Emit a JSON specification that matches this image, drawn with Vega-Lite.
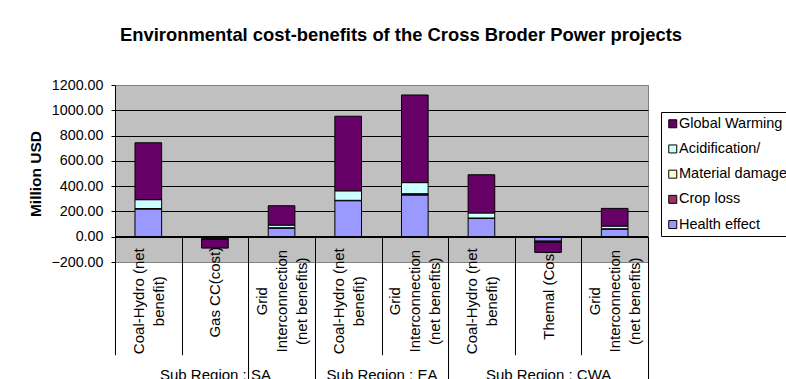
{
  "$schema": "https://vega.github.io/schema/vega-lite/v6.json",
  "width": 533,
  "height": 177,
  "autosize": {"type": "none"},
  "padding": {"left": 115, "top": 85, "right": 138, "bottom": 117},
  "background": "white",
  "config": {
    "font": "Liberation Sans",
    "view": {"fill": "#C0C0C0", "stroke": "#808080", "strokeWidth": 1}
  },
  "title": {
    "text": "Environmental cost-benefits of the Cross Broder Power projects",
    "fontSize": 18.4,
    "fontWeight": "bold",
    "color": "black",
    "anchor": "middle",
    "frame": "group",
    "dx": 19.5,
    "offset": 34
  },
  "data": {
    "values": [
      {"region": "SA", "project": "Coal-Hydro (net benefit)", "component": "Health effect", "value": 220},
      {"region": "SA", "project": "Coal-Hydro (net benefit)", "component": "Crop loss", "value": 2},
      {"region": "SA", "project": "Coal-Hydro (net benefit)", "component": "Material damage", "value": 1},
      {"region": "SA", "project": "Coal-Hydro (net benefit)", "component": "Acidification/", "value": 70},
      {"region": "SA", "project": "Coal-Hydro (net benefit)", "component": "Global Warming", "value": 450},
      {"region": "SA", "project": "Gas CC(cost)", "component": "Health effect", "value": -12},
      {"region": "SA", "project": "Gas CC(cost)", "component": "Crop loss", "value": -8},
      {"region": "SA", "project": "Gas CC(cost)", "component": "Material damage", "value": 0},
      {"region": "SA", "project": "Gas CC(cost)", "component": "Acidification/", "value": 0},
      {"region": "SA", "project": "Gas CC(cost)", "component": "Global Warming", "value": -70},
      {"region": "SA", "project": "Grid Interconnection (net benefits)", "component": "Health effect", "value": 70},
      {"region": "SA", "project": "Grid Interconnection (net benefits)", "component": "Crop loss", "value": 1},
      {"region": "SA", "project": "Grid Interconnection (net benefits)", "component": "Material damage", "value": 0},
      {"region": "SA", "project": "Grid Interconnection (net benefits)", "component": "Acidification/", "value": 21},
      {"region": "SA", "project": "Grid Interconnection (net benefits)", "component": "Global Warming", "value": 153},
      {"region": "EA", "project": "Coal-Hydro (net benefit)", "component": "Health effect", "value": 285},
      {"region": "EA", "project": "Coal-Hydro (net benefit)", "component": "Crop loss", "value": 2},
      {"region": "EA", "project": "Coal-Hydro (net benefit)", "component": "Material damage", "value": 1},
      {"region": "EA", "project": "Coal-Hydro (net benefit)", "component": "Acidification/", "value": 75},
      {"region": "EA", "project": "Coal-Hydro (net benefit)", "component": "Global Warming", "value": 590},
      {"region": "EA", "project": "Grid Interconnection (net benefits)", "component": "Health effect", "value": 330},
      {"region": "EA", "project": "Grid Interconnection (net benefits)", "component": "Crop loss", "value": 8},
      {"region": "EA", "project": "Grid Interconnection (net benefits)", "component": "Material damage", "value": 2},
      {"region": "EA", "project": "Grid Interconnection (net benefits)", "component": "Acidification/", "value": 88},
      {"region": "EA", "project": "Grid Interconnection (net benefits)", "component": "Global Warming", "value": 693},
      {"region": "CWA", "project": "Coal-Hydro (net benefit)", "component": "Health effect", "value": 147},
      {"region": "CWA", "project": "Coal-Hydro (net benefit)", "component": "Crop loss", "value": 1},
      {"region": "CWA", "project": "Coal-Hydro (net benefit)", "component": "Material damage", "value": 0},
      {"region": "CWA", "project": "Coal-Hydro (net benefit)", "component": "Acidification/", "value": 40},
      {"region": "CWA", "project": "Coal-Hydro (net benefit)", "component": "Global Warming", "value": 302},
      {"region": "CWA", "project": "Themal (Cost)", "component": "Health effect", "value": -35},
      {"region": "CWA", "project": "Themal (Cost)", "component": "Crop loss", "value": -8},
      {"region": "CWA", "project": "Themal (Cost)", "component": "Material damage", "value": 0},
      {"region": "CWA", "project": "Themal (Cost)", "component": "Acidification/", "value": 0},
      {"region": "CWA", "project": "Themal (Cost)", "component": "Global Warming", "value": -81},
      {"region": "CWA", "project": "Grid Interconnection (net benefits)", "component": "Health effect", "value": 62},
      {"region": "CWA", "project": "Grid Interconnection (net benefits)", "component": "Crop loss", "value": 1},
      {"region": "CWA", "project": "Grid Interconnection (net benefits)", "component": "Material damage", "value": 0},
      {"region": "CWA", "project": "Grid Interconnection (net benefits)", "component": "Acidification/", "value": 21},
      {"region": "CWA", "project": "Grid Interconnection (net benefits)", "component": "Global Warming", "value": 140}
    ]
  },
  "transform": [
    {"calculate": "datum.region + '|' + datum.project", "as": "key"},
    {"calculate": "indexof(['Health effect', 'Crop loss', 'Material damage', 'Acidification/', 'Global Warming'], datum.component)", "as": "stackOrder"}
  ],
  "layer": [
    {
      "mark": {"type": "bar", "width": {"band": 0.4}, "stroke": "black", "strokeWidth": 1},
      "encoding": {
        "x": {
          "field": "key",
          "type": "nominal",
          "sort": null,
          "scale": {"paddingInner": 0, "paddingOuter": 0},
          "axis": {
            "title": null,
            "orient": "bottom",
            "offset": -25.3,
            "domain": true,
            "domainColor": "black",
            "ticks": true,
            "tickBand": "extent",
            "tickSize": 118,
            "tickColor": "black",
            "grid": false,
            "labelAngle": 270,
            "labelAlign": "center",
            "labelBaseline": "middle",
            "labelFontSize": 15,
            "labelColor": "black",
            "labelLineHeight": 20,
            "labelPadding": {
              "condition": {"test": "datum.value && (indexof(datum.value, 'Gas') >= 0 || indexof(datum.value, 'Themal') >= 0)", "value": -63},
              "value": -54
            },
            "labelOffset": {
              "condition": [
                {"test": "datum.value && indexof(datum.value, 'Coal') >= 0", "value": -10},
                {"test": "datum.value && indexof(datum.value, 'Grid') >= 0", "value": -20}
              ],
              "value": 0
            },
            "labelOverlap": false,
            "labelBound": false,
            "labelLimit": 0,
            "labelExpr": "!datum.value ? '' : split(datum.value, '|')[1] == 'Coal-Hydro (net benefit)' ? ['Coal-Hydro (net', 'benefit)'] : split(datum.value, '|')[1] == 'Grid Interconnection (net benefits)' ? ['Grid', 'Interconnection', '(net benefits)'] : split(datum.value, '|')[1]"
          }
        },
        "y": {
          "field": "value",
          "type": "quantitative",
          "stack": "zero",
          "scale": {"domain": [-200, 1200], "nice": false, "zero": false},
          "axis": {
            "title": "Million USD",
            "titleFontSize": 15.5,
            "titleFontWeight": "bold",
            "titleColor": "black",
            "titleAngle": 270,
            "titleX": -80,
            "titleY": 88.5,
            "titleAlign": "center",
            "titleBaseline": "middle",
            "values": [-200, 0, 200, 400, 600, 800, 1000, 1200],
            "tickCount": 8,
            "format": ".2f",
            "labelFontSize": 14.3,
            "labelColor": "black",
            "labelPadding": 8,
            "labelFlush": false,
            "labelOverlap": false,
            "tickSize": 4,
            "tickColor": "black",
            "domainColor": "black",
            "grid": true,
            "gridWidth": 1,
            "gridColor": {
              "condition": {"test": "datum.value == 1200 || datum.value == -200", "value": "#808080"},
              "value": "black"
            }
          }
        },
        "color": {
          "field": "component",
          "type": "nominal",
          "scale": {
            "domain": ["Global Warming", "Acidification/", "Material damage", "Crop loss", "Health effect"],
            "range": ["#660066", "#CCFFFF", "#FFFFCC", "#993366", "#9999FF"]
          },
          "legend": {
            "title": null,
            "orient": "none",
            "legendX": 546,
            "legendY": 27,
            "direction": "vertical",
            "fillColor": "white",
            "strokeColor": "black",
            "padding": 4.5,
            "symbolType": "square",
            "symbolSize": 64,
            "symbolStrokeColor": "black",
            "symbolStrokeWidth": 1,
            "symbolOffset": 0,
            "labelFontSize": 14.5,
            "labelColor": "black",
            "labelOffset": -1,
            "rowPadding": 10.2,
            "labelLimit": 0
          }
        },
        "order": {"field": "stackOrder", "type": "quantitative"}
      }
    },
    {
      "mark": {"type": "rule", "color": "black", "strokeWidth": 1},
      "encoding": {
        "x": {
          "field": "key",
          "type": "nominal",
          "sort": null,
          "bandPosition": 0,
          "axis": {
            "title": null,
            "orient": "bottom",
            "offset": -25.3,
            "domain": false,
            "grid": false,
            "ticks": true,
            "tickBand": "extent",
            "tickSize": 150,
            "tickColor": "black",
            "tickWidth": 1,
            "values": ["SA|Grid Interconnection (net benefits)", "EA|Grid Interconnection (net benefits)", "CWA|Grid Interconnection (net benefits)"],
            "labelAngle": 0,
            "labelAlign": "center",
            "labelBaseline": "alphabetic",
            "labelFontSize": 15,
            "labelColor": "black",
            "labelPadding": -7.3,
            "labelOffset": {
              "condition": {"test": "datum.value == 'EA|Grid Interconnection (net benefits)'", "value": -33.3},
              "value": -66.6
            },
            "labelOverlap": false,
            "labelBound": false,
            "labelLimit": 0,
            "labelExpr": "datum.value ? 'Sub Region : ' + split(datum.value, '|')[0] : ''"
          }
        },
        "x2": {"field": "key", "bandPosition": 1},
        "y": {"datum": 0, "type": "quantitative"}
      }
    }
  ],
  "resolve": {"axis": {"x": "independent"}}
}
